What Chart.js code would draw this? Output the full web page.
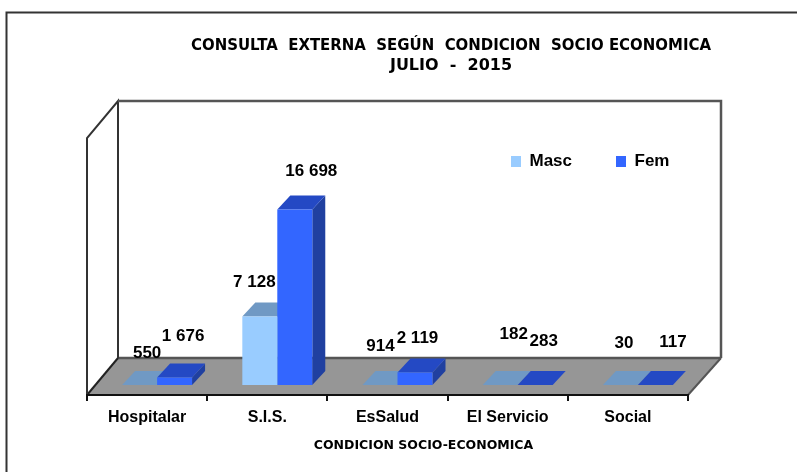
<!DOCTYPE html>
<html>

<head>
	<meta charset="utf-8">
	<title>Consulta externa</title>
	<script src="https://cdn.jsdelivr.net/npm/chart.js"></script>
	<style>
		body { margin: 0; background: #fff; }
		canvas { display: block; }
	</style>
</head>

<body>
	<canvas id="canvas" width="797" height="472"></canvas>

	<script>
		// Datos
		const categorias = ['Hospitalar', 'S.I.S.', 'EsSalud', 'El Servicio', 'Social']
		const masc = [550, 7128, 914, 182, 30]
		const fem = [1676, 16698, 2119, 283, 117]
		const tituloGrafico = ['CONSULTA  EXTERNA  SEGÚN  CONDICION  SOCIO ECONOMICA', 'JULIO  -  2015']
		const tituloEjeX = 'CONDICION SOCIO-ECONOMICA'

		const BASE = 1000 // el eje empieza aqui, lo que queda debajo se ve plano
		const FONT = '"Liberation Sans", Arial, sans-serif'
		const WIDE_FONT = '"DejaVu Sans", Verdana, sans-serif'

		// profundidad de la caja (piso) y de las barras
		const BOX_DX_L = 31, BOX_DX_R = 33, BOX_DY = 37
		const PLANE_DX = 10, PLANE_DY = 10
		const BAR_DX = 13, BAR_DY = 14

		const tops = ['#7099C4', '#2449C4']
		const sides = ['#7099C4', '#2040A0']

		function poly(ctx, pts, fill, stroke, lw) {
			ctx.beginPath()
			pts.forEach((p, i) => i ? ctx.lineTo(p[0], p[1]) : ctx.moveTo(p[0], p[1]))
			if (fill) { ctx.fillStyle = fill; ctx.closePath(); ctx.fill() }
			if (stroke) { ctx.strokeStyle = stroke; ctx.lineWidth = lw; ctx.stroke() }
		}

		function fmt(v) {
			return String(v).replace(/\B(?=(\d{3})+$)/g, ' ')
		}

		const box3d = {
			id: 'box3d',
			beforeLayout(chart) {
				// la leyenda va dentro del area, no debe quitar alto al grafico
				const legend = chart.legend
				if (legend && !legend._wrapped) {
					const fit = legend.fit
					legend.fit = function () { fit.call(this); this.height = 0 }
					legend._wrapped = true
				}
			},
			afterLayout(chart) {
				chart.titleBlock.left = 191
				chart.titleBlock.right = 711
				chart.legend.left = 467
				chart.legend.right = 760
				chart.legend.top = 109
				chart.legend.bottom = 215
			},
			beforeDraw(chart) {
				const { ctx, chartArea: a } = chart
				const l = a.left, r = a.right, t = a.top, b = a.bottom
				const backL = l + BOX_DX_L, backR = r + BOX_DX_R, backB = b - BOX_DY, backT = t - BOX_DY
				ctx.save()
				ctx.fillStyle = '#fff'
				ctx.fillRect(0, 0, chart.width, chart.height)
				// marco exterior
				poly(ctx, [[6.5, 472], [6.5, 12.5], [797, 12.5]], null, '#333', 2)
				// piso
				poly(ctx, [[l, b], [r, b], [backR, backB], [backL, backB]], '#969696')
				poly(ctx, [[backL, backB], [backR, backB]], null, '#555', 2.5)
				poly(ctx, [[l, b], [backL, backB]], null, '#222', 2)
				poly(ctx, [[r, b], [backR, backB]], null, '#555', 2)
				// paredes
				poly(ctx, [[l, b], [l, t], [backL, backT], [backL, backB]], null, '#333', 2)
				poly(ctx, [[backL, backT], [backR, backT], [backR, backB]], null, '#555', 2.5)
				ctx.restore()
			},
			beforeDatasetsDraw(chart) {
				const ctx = chart.ctx
				ctx.save()
				ctx.translate(PLANE_DX, -PLANE_DY)
				chart.data.datasets.forEach((ds, i) => {
					chart.getDatasetMeta(i).data.forEach(el => {
						const x0 = el.x - el.width / 2, x1 = el.x + el.width / 2
						if (el.base - el.y > 0)
							poly(ctx, [[x1, el.y], [x1 + BAR_DX, el.y - BAR_DY], [x1 + BAR_DX, el.base - BAR_DY], [x1, el.base]], sides[i])
						poly(ctx, [[x0, el.y], [x1, el.y], [x1 + BAR_DX, el.y - BAR_DY], [x0 + BAR_DX, el.y - BAR_DY]], tops[i])
					})
				})
			},
			afterDatasetsDraw(chart, args, opts) {
				const ctx = chart.ctx
				ctx.fillStyle = '#000'
				ctx.font = 'bold 17px ' + FONT
				ctx.textAlign = 'center'
				ctx.textBaseline = 'middle'
				const valores = [masc, fem]
				chart.data.datasets.forEach((ds, i) => {
					chart.getDatasetMeta(i).data.forEach((el, j) => {
						const s = opts.shift[i][j]
						ctx.fillText(fmt(valores[i][j]), el.x + BAR_DX / 2 + s[0], el.y - BAR_DY - 14 + s[1])
					})
				})
				ctx.restore()
				// titulo del eje, va corrido a la derecha del centro
				ctx.save()
				ctx.fillStyle = '#000'
				ctx.font = 'bold 12.5px ' + WIDE_FONT
				ctx.textAlign = 'center'
				ctx.textBaseline = 'middle'
				ctx.fillText(tituloEjeX, 423.5, 446, 220)
				ctx.restore()
			}
		}

		const chart = new Chart(document.querySelector('#canvas'), {
			type: 'bar',
			data: {
				labels: categorias,
				datasets: [
					{ label: 'Masc', data: masc.map(v => [BASE, Math.max(BASE, v)]), backgroundColor: '#99CCFF', clip: false },
					{ label: 'Fem', data: fem.map(v => [BASE, Math.max(BASE, v)]), backgroundColor: '#3366FF', clip: false }
				]
			},
			options: {
				responsive: false,
				animation: false,
				layout: { padding: { left: 87, right: 109, top: 0, bottom: 0 } },
				datasets: { bar: { categoryPercentage: 0.582, barPercentage: 1 } },
				scales: {
					x: {
						border: { color: '#111', width: 2 },
						grid: { drawOnChartArea: false, color: '#111', lineWidth: 2, tickLength: 6 },
						ticks: { color: '#000', font: { family: FONT, weight: 'bold', size: 16 }, padding: 7, maxRotation: 0 },
						afterFit(scale) { scale.height = 77 }
					},
					y: { display: false, min: BASE, max: 24000 }
				},
				plugins: {
					title: {
						display: true,
						text: tituloGrafico,
						color: '#000',
						font: { family: WIDE_FONT, weight: 'bold', size: 16, lineHeight: 1.25 },
						padding: { top: 36, bottom: 62 }
					},
					legend: {
						display: true,
						align: 'start',
						labels: {
							color: '#000',
							font: { family: FONT, weight: 'bold', size: 17 },
							boxWidth: 10,
							boxHeight: 11,
							padding: 44
						}
					},
					tooltip: { enabled: false },
					box3d: {
						shift: [
							[[1, -4], [-12, -6], [-6, -11], [7, -23], [-3, -14]],
							[[2, -13], [10, -10], [-4, -6], [2, -16], [11, -15]]
						]
					}
				}
			},
			plugins: [box3d]
		})
	</script>
</body>

</html>
